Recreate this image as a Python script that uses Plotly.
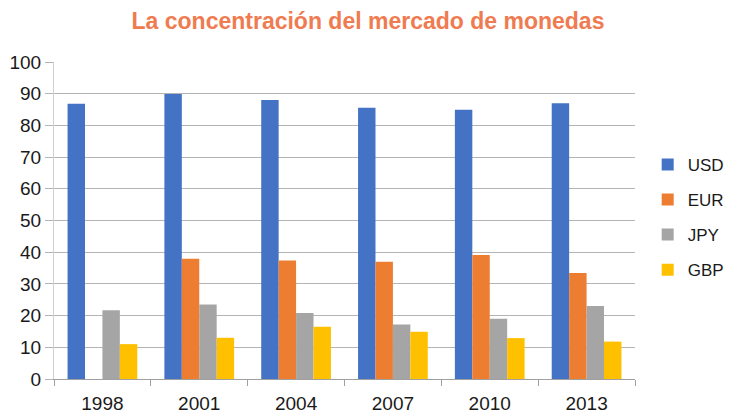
import plotly.graph_objects as go

# Share of global FX turnover by currency (percent, sums to 200%)
years = ["1998", "2001", "2004", "2007", "2010", "2013"]
usd = [86.8, 89.9, 88.0, 85.6, 84.9, 87.0]
eur = [None, 37.9, 37.4, 37.0, 39.1, 33.4]
jpy = [21.7, 23.5, 20.8, 17.2, 19.0, 23.0]
gbp = [11.0, 13.0, 16.5, 14.9, 12.9, 11.8]

series = [
    ("USD", usd, "#4472C4"),
    ("EUR", eur, "#ED7D31"),
    ("JPY", jpy, "#A5A5A5"),
    ("GBP", gbp, "#FFC000"),
]

fig = go.Figure()
for name, vals, color in series:
    fig.add_trace(go.Bar(
        x=years, y=vals, name=name, legendgroup=name,
        marker=dict(color=color, line=dict(width=0)),
    ))

grid = "#B4B4B4"
fig.update_layout(
    width=736, height=414,
    paper_bgcolor="white", plot_bgcolor="white",
    margin=dict(l=54, r=101, t=62, b=35),
    barmode="group", bargap=0.28, bargroupgap=0,
    font=dict(family="Liberation Sans, Arial, sans-serif", size=17, color="#1a1a1a"),
    title=dict(
        text="<b>La concentración del mercado de monedas</b>",
        x=0.5, xref="container", xanchor="center",
        y=0.95, yref="container", yanchor="middle",
        font=dict(family="Liberation Sans, Arial, sans-serif",
                  size=23, color="#EF7B50"),
    ),
    legend=dict(
        x=0.88, xref="container", xanchor="left",
        y=0.51, yanchor="middle",
        font=dict(size=17),
        traceorder="grouped", tracegroupgap=10,
        itemwidth=30,
    ),
    xaxis=dict(
        type="category", showgrid=False, automargin=False,
        showline=True, linecolor="#A0A0A0", linewidth=1,
        ticks="outside", tickson="boundaries", ticklen=6, tickcolor="#A0A0A0",
        ticklabelstandoff=7,
        tickfont=dict(size=19),
    ),
    yaxis=dict(
        range=[0, 100], dtick=10, tick0=0, automargin=False,
        showgrid=True, gridcolor=grid, gridwidth=1,
        showline=True, linecolor="#D0D0D0", linewidth=1,
        ticks="outside", ticklen=8, tickcolor=grid,
        zeroline=False,
        tickfont=dict(size=19),
    ),
)

fig.write_html("out.html")
